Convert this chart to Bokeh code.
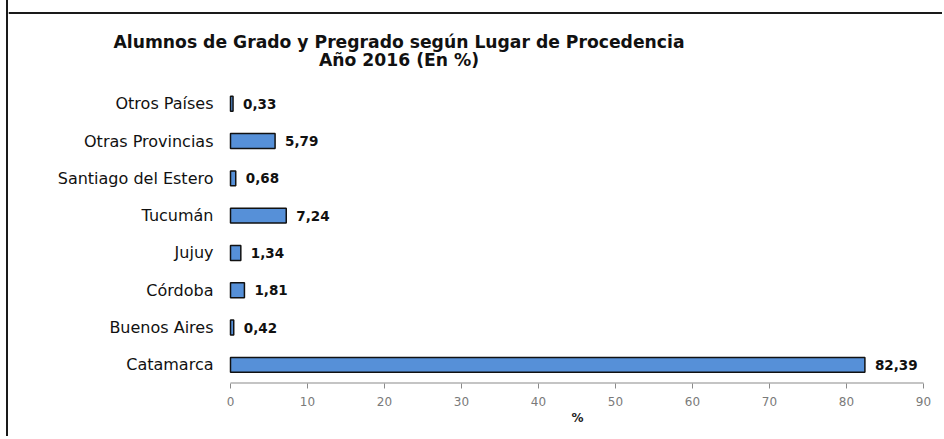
from bokeh.plotting import figure
from bokeh.models import Range1d, FixedTicker, Label, ColumnDataSource, Span, Title
from bokeh.core.properties import value
from bokeh.embed import file_html
from bokeh.resources import INLINE

# ---- data (top to bottom as in the chart) ----
categories = ["Otros Países", "Otras Provincias", "Santiago del Estero", "Tucumán",
              "Jujuy", "Córdoba", "Buenos Aires", "Catamarca"]
values = [0.33, 5.79, 0.68, 7.24, 1.34, 1.81, 0.42, 82.39]
value_labels = ["0,33", "5,79", "0,68", "7,24", "1,34", "1,81", "0,42", "82,39"]
x_ticks = [0, 10, 20, 30, 40, 50, 60, 70, 80, 90]
title_line1 = "Alumnos de Grado y Pregrado según Lugar de Procedencia"
title_line2 = "Año 2016 (En %)"
x_label = "%"

# ---- layout (image pixel positions of the reference) ----
ORIGIN_X, ORIGIN_Y = 8, 0           # canvas origin in the picture (after the left border)
W, H = 934, 436
X0_IMG, X90_IMG = 230, 923          # x = 0 and x = 90
AXIS_IMG = 383                      # y of the x axis line
CAT_PX = 37.3                       # distance between category rows
XMAX = 90

pxu_x = (X90_IMG - X0_IMG) / XMAX
BOTTOM = ORIGIN_Y + H - AXIS_IMG    # height of the panel below the frame
frame_h = H - BOTTOM

def img_x(px):
    return (px - X0_IMG) / pxu_x

def img_y(py):
    return -0.5 + (AXIS_IMG - py) / CAT_PX

n = len(categories)
ypos = [n - 1 - i for i in range(n)]
src = ColumnDataSource(dict(y=ypos, cat=categories, val=values, lab=value_labels,
                            zero=[0] * n))

p = figure(width=W, height=H, output_backend="svg", toolbar_location=None,
           x_range=Range1d(img_x(ORIGIN_X), img_x(ORIGIN_X + W)),
           y_range=Range1d(-0.5, -0.5 + frame_h / CAT_PX),
           y_axis_location=None,
           min_border_left=0, min_border_right=0,
           min_border_top=0, min_border_bottom=BOTTOM)
p.outline_line_color = None
p.background_fill_color = "white"
p.border_fill_color = "white"
p.xgrid.grid_line_color = None
p.ygrid.grid_line_color = None
# left border of the picture, drawn just outside the canvas
p.styles = {"margin-left": "8px", "box-shadow": "-2px 0 0 0 #1a1a1a"}

p.hbar(y="y", right="val", left="zero", height=0.4, source=src,
       fill_color="#5690D8", line_color="#111111", line_width=1.5)

# value labels
p.text(x="val", y="y", text="lab", source=src, x_offset=10,
       text_align="left", text_baseline="middle",
       text_font=value("DejaVu Sans"), text_font_style="bold",
       text_font_size="13.5px", text_color="#111111")

# category labels
p.text(x="zero", y="y", text="cat", source=src, x_offset=-(X0_IMG - 213),
       text_align="right", text_baseline="middle",
       text_font=value("DejaVu Sans"), text_font_size="16px", text_color="#111111")

# x axis: the rule only spans the 0-90 scale (drawn on the frame's bottom edge)
p.segment(x0=[x_ticks[0]], x1=[x_ticks[-1]], y0=[-0.5], y1=[-0.5],
          line_color="#8a8a8a", line_width=2)
xa = p.xaxis[0]
xa.ticker = FixedTicker(ticks=x_ticks)
xa.axis_line_color = None
xa.major_tick_line_color = "#8a8a8a"
xa.major_tick_in = 0
xa.major_tick_out = 5
xa.minor_tick_line_color = None
xa.major_label_text_font = "DejaVu Sans"
xa.major_label_text_font_size = "12px"
xa.major_label_text_color = "#7a7a7a"
xa.major_label_standoff = 8

# axis title "%" centred under the 0-90 scale
p.add_layout(Title(text=x_label, align="left", offset=(577 - ORIGIN_X) - 6,
                   vertical_align="top", standoff=4,
                   text_font="DejaVu Sans", text_font_style="bold",
                   text_font_size="12px", text_color="#222222"), "below")

# title (two centred lines)
tx = img_x(398.5)
p.add_layout(Label(x=tx, y=img_y(41), text=title_line1, text_align="center",
                   text_baseline="middle", text_font="DejaVu Sans",
                   text_font_style="bold", text_font_size="17.2px", text_color="#111111"))
p.add_layout(Label(x=tx, y=img_y(59), text=title_line2, text_align="center",
                   text_baseline="middle", text_font="DejaVu Sans",
                   text_font_style="bold", text_font_size="17.2px", text_color="#111111"))

# top border of the picture
p.add_layout(Span(location=img_y(12.5), dimension="width",
                  line_color="#1a1a1a", line_width=2))

open("out.html", "w").write(file_html(p, INLINE))
